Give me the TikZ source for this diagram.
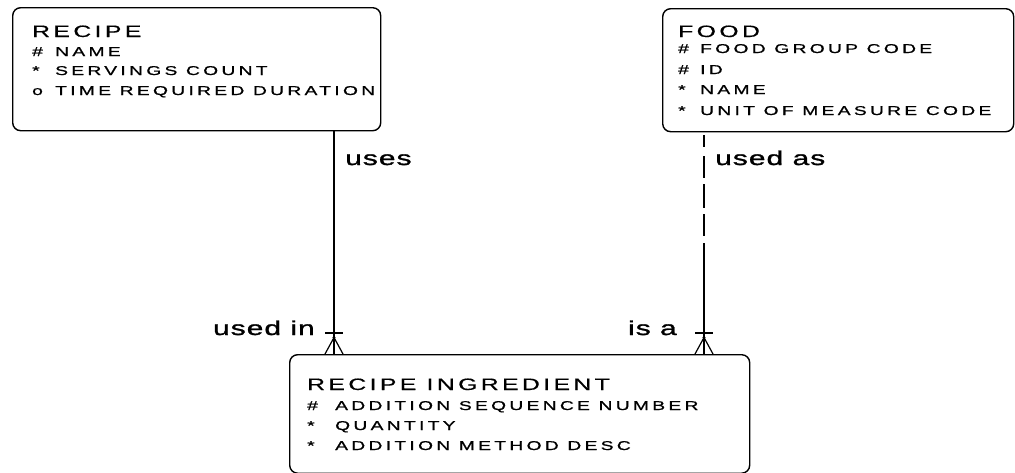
\documentclass[tikz,border=0pt]{standalone}
\usepackage{fontspec}
\setmainfont{Liberation Sans}
\newfontfamily\erttlfont[FakeStretch=1.5,LetterSpace=20.6,FakeBold=0.4]{Liberation Sans}
\newfontfamily\erattrfont[FakeStretch=1.5,LetterSpace=26,FakeBold=1.0]{Liberation Sans}
\newfontfamily\errelfont[FakeStretch=1.5,LetterSpace=5,FakeBold=1.4]{Liberation Sans}
\begin{document}
\begin{tikzpicture}[x=1pt,y=-1pt,
  entity/.style={draw,line width=1.4pt,rounded corners=8pt,inner sep=0,anchor=north west},
  ttl/.style={anchor=base west,inner sep=0,font=\erttlfont\fontsize{16.5}{18}\selectfont},
  attr/.style={anchor=base west,inner sep=0,font=\erattrfont\fontsize{12.8}{14}\selectfont},
  rel/.style={inner sep=0,font=\errelfont\fontsize{20}{22}\selectfont},
  conn/.style={line width=1.2pt}]
\useasboundingbox (0,0) rectangle (1015,472);

% entities
\node[entity,minimum width=368pt,minimum height=123pt] (recipe) at (12,7) {};
\node[entity,minimum width=351pt,minimum height=123pt] (food) at (662,8) {};
\node[entity,minimum width=460pt,minimum height=118.5pt] (ri) at (289,354) {};

% RECIPE text
\node[ttl] (t1) at (32,37) {RECIPE};
\node[attr] (m11) at (32,56) {\#};
\node[attr] (a11) at (55,56) {NAME};
\node[attr] (m12) at (32,75) {*};
\node[attr] (a12) at (55,75) {SERVINGS COUNT};
\node[attr] (m13) at (32,95) {o};
\node[attr] (a13) at (55,95) {TIME REQUIRED DURATION};

% FOOD text
\node[ttl] (t2) at (678,37) {FOOD};
\node[attr] (m21) at (678,53) {\#};
\node[attr] (a21) at (700,53) {FOOD GROUP CODE};
\node[attr] (m22) at (678,74) {\#};
\node[attr] (a22) at (700,74) {ID};
\node[attr] (m23) at (678,94) {*};
\node[attr] (a23) at (700,94) {NAME};
\node[attr] (m24) at (678,115) {*};
\node[attr] (a24) at (700,115) {UNIT OF MEASURE CODE};

% RECIPE INGREDIENT text
\node[ttl] (t3) at (307,390) {RECIPE INGREDIENT};
\node[attr] (m31) at (307,410) {\#};
\node[attr] (a31) at (335,410) {ADDITION SEQUENCE NUMBER};
\node[attr] (m32) at (307,430) {*};
\node[attr] (a32) at (335,430) {QUANTITY};
\node[attr] (m33) at (307,450) {*};
\node[attr] (a33) at (335,450) {ADDITION METHOD DESC};

% connector RECIPE -- RECIPE INGREDIENT
\coordinate (ux) at (334,0);
\coordinate (ubar) at (334,333);
\coordinate (uapex) at (334,337.5);
\draw[conn] (ux |- recipe.south) -- (ux |- ri.north);
\draw[conn] ([xshift=-9pt]ubar) -- ([xshift=9pt]ubar);
\draw[conn] (uapex) -- ([xshift=-9pt]uapex |- ri.north);
\draw[conn] (uapex) -- ([xshift=9pt]uapex |- ri.north);
\fill (uapex) circle (1.6pt);

% connector FOOD -- RECIPE INGREDIENT
\coordinate (fx) at (704,0);
\coordinate (fmid) at (704,243);
\coordinate (fbar) at (704,333);
\coordinate (fapex) at (704,337.5);
\draw[conn,dash pattern=on 0pt off 3pt on 12pt off 9pt on 22pt off 6pt on 24pt off 6pt on 22pt off 8pt]
  (fx |- food.south) -- (fmid);
\draw[conn] (fmid) -- (fx |- ri.north);
\draw[conn] ([xshift=-9pt]fbar) -- ([xshift=9pt]fbar);
\draw[conn] (fapex) -- ([xshift=-9pt]fapex |- ri.north);
\draw[conn] (fapex) -- ([xshift=9pt]fapex |- ri.north);
\fill (fapex) circle (1.6pt);

% relationship labels
\node[rel,anchor=base west] (l1) at (345,165) {uses};
\node[rel,anchor=base west] (l2) at (715,165) {used as};
\node[rel,anchor=base east] (l3) at (315,335) {used in};
\node[rel,anchor=base east] (l4) at (677,335) {is a};
\end{tikzpicture}
\end{document}
